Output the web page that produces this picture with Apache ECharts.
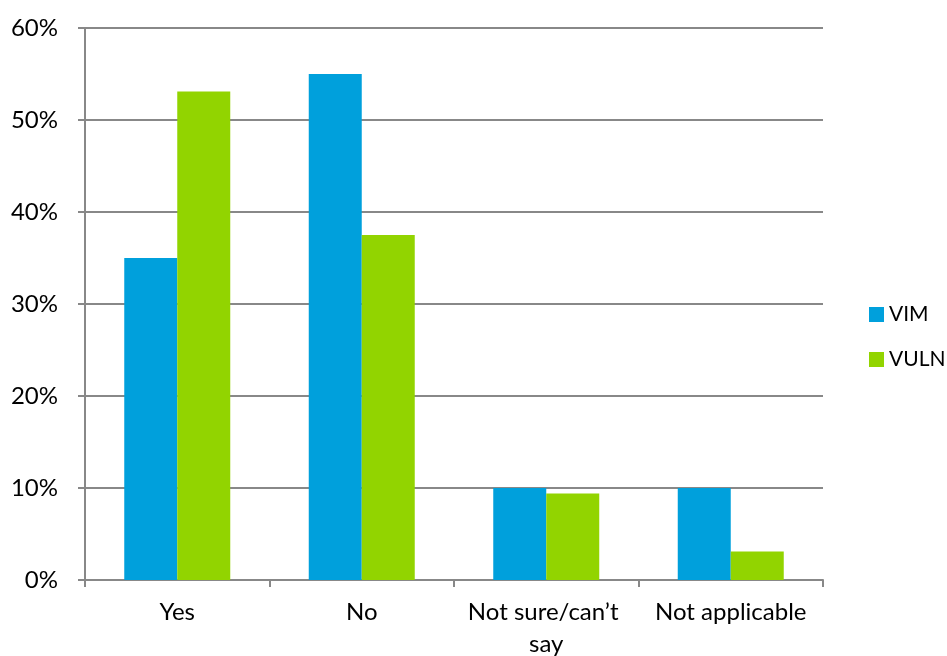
<!DOCTYPE html>
<html>
<head>
<meta charset="utf-8">
<script src="https://cdn.jsdelivr.net/npm/echarts@6/dist/echarts.min.js"></script>
<style>
html, body { margin: 0; padding: 0; background: #fff; }
#chart { width: 947px; height: 656px; }
</style>
</head>
<body>
<div id="chart"></div>
<script>
// categories and series values (percent)
var categories = ['Yes', 'No', 'Not sure/can\u2019t say', 'Not applicable'];
var vimValues = [35, 55, 10, 10];
var vulnValues = [53.1, 37.5, 9.4, 3.1];
var seriesNames = ['VIM', 'VULN'];

var chart = echarts.init(document.getElementById('chart'));
var font = 'Lato, "Open Sans", sans-serif';

var option = {
    animation: false,
    color: ['#00A0DC', '#92D400'],
    textStyle: { fontFamily: font },
    grid: { left: 85, right: 124, top: 28, bottom: 76, outerBoundsMode: 'none', containLabel: false },
    legend: {
        orient: 'vertical',
        left: 864,
        top: 299,
        itemWidth: 15,
        itemHeight: 15,
        itemGap: 24,
        icon: 'rect',
        data: seriesNames,
        textStyle: { fontSize: 21, color: '#000', fontFamily: font }
    },
    xAxis: {
        type: 'category',
        data: categories,
        axisLine: { lineStyle: { color: '#888', width: 2 } },
        axisTick: { show: true, length: 7, lineStyle: { color: '#888', width: 2 } },
        axisLabel: {
            color: '#000', fontSize: 24, margin: 16, lineHeight: 32,
            width: 182, overflow: 'break', interval: 0, fontFamily: font
        }
    },
    yAxis: {
        type: 'value',
        min: 0,
        max: 60,
        interval: 10,
        axisLine: { show: true, lineStyle: { color: '#888', width: 2 } },
        axisTick: { show: true, length: 7, lineStyle: { color: '#888', width: 2 } },
        splitLine: { lineStyle: { color: '#888', width: 2 } },
        axisLabel: { color: '#000', fontSize: 24, margin: 27, formatter: '{value}%', fontFamily: font }
    },
    series: [
        {
            name: seriesNames[0],
            type: 'bar',
            data: vimValues,
            barWidth: 53,
            barGap: '0%'
        },
        {
            name: seriesNames[1],
            type: 'bar',
            data: vulnValues,
            barWidth: 53,
            barGap: '0%'
        }
    ]
};
chart.setOption(option);
</script>
</body>
</html>
